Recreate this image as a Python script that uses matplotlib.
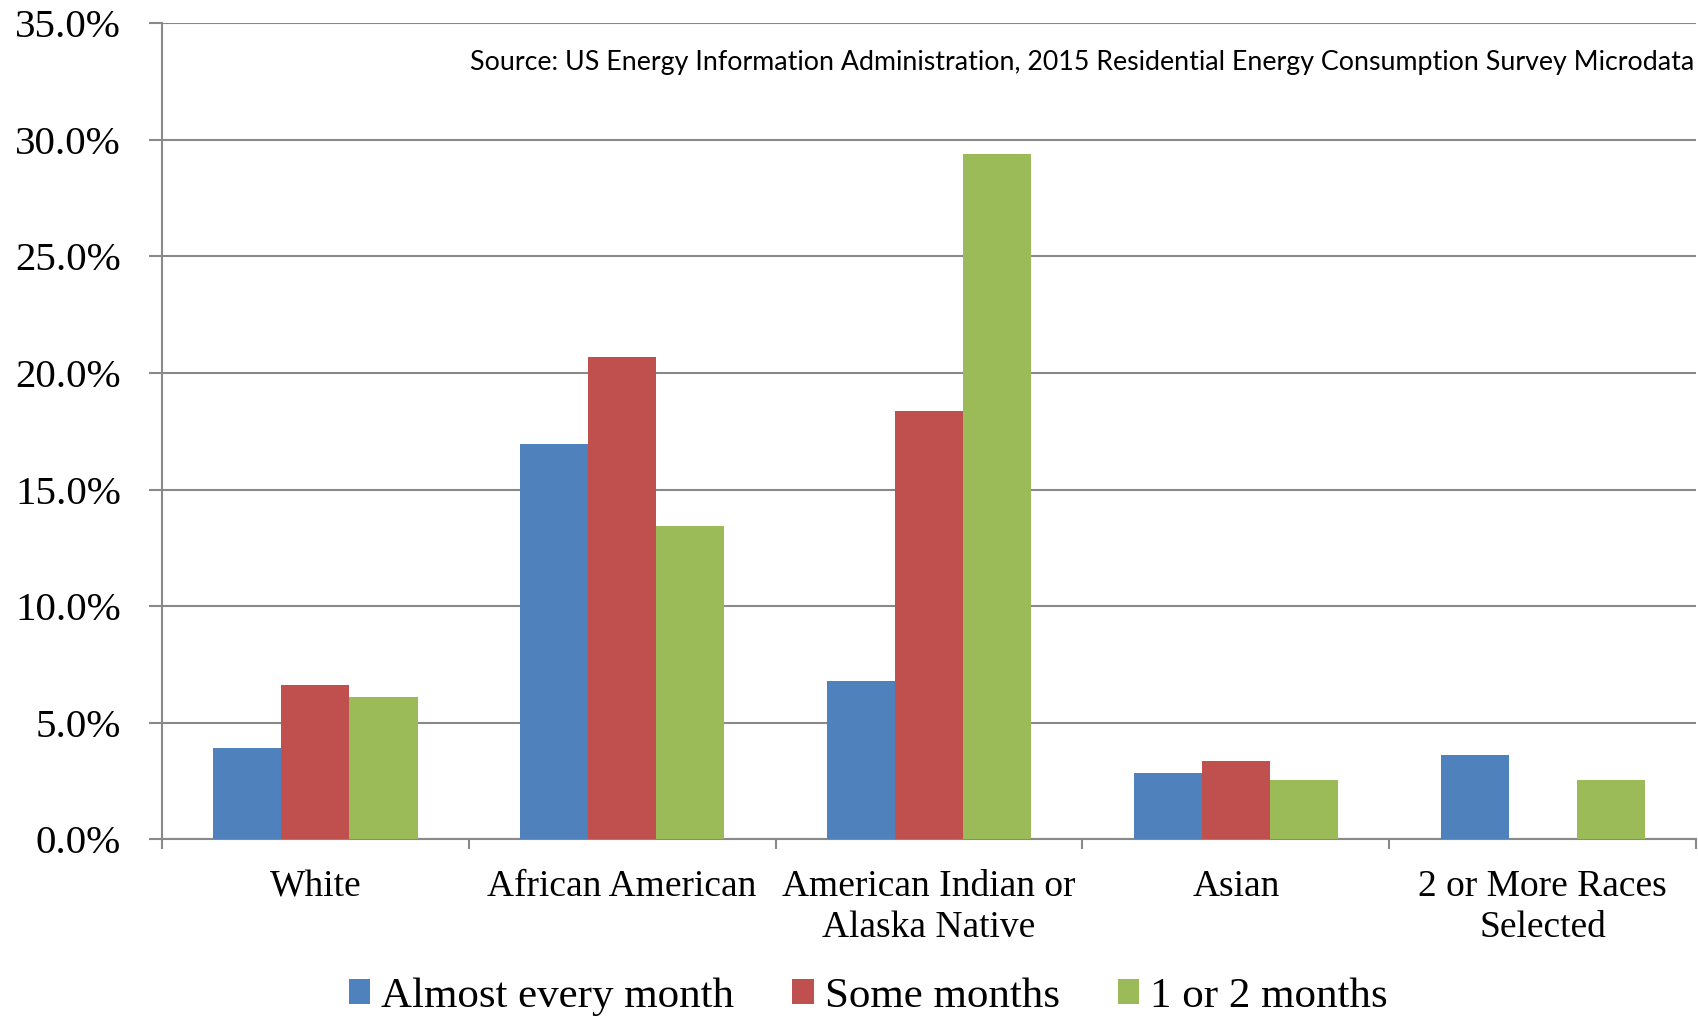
import numpy as np
import matplotlib.pyplot as plt
from matplotlib.ticker import FuncFormatter, FixedLocator

# Данные
categories = ['White', 'African American', 'American Indian or\nAlaska Native',
              'Asian', '2 or More Races\nSelected']
almost_every = [3.92, 16.95, 6.78, 2.82, 3.62]
some_months = [6.62, 20.7, 18.38, 3.36, 0.0]
one_two = [6.1, 13.45, 29.38, 2.54, 2.52]

series = [('Almost every month', almost_every, '#4F81BD'),
          ('Some months', some_months, '#C0504D'),
          ('1 or 2 months', one_two, '#9BBB59')]

grey = '#898989'
plt.rcParams['font.family'] = ['Liberation Serif', 'DejaVu Serif']

fig = plt.figure(figsize=(16.99, 10.16), dpi=100)
ax = fig.add_axes([0.0953, 0.174, 0.903, 0.803])

x = np.arange(len(categories))
w = 0.222
for i, (name, vals, col) in enumerate(series):
    ax.bar(x + (i - 1) * w, vals, w, color=col, label=name, zorder=3)

ax.set_xlim(-0.5, len(categories) - 0.5)
ax.set_ylim(0, 35)
ax.set_yticks(np.arange(0, 35.1, 5))
ax.yaxis.set_major_formatter(FuncFormatter(lambda v, p: f'{v:.1f}%'))
ax.grid(axis='y', color=grey, linewidth=1.5, zorder=0)

ax.set_xticks(x)
ax.set_xticklabels(categories, fontsize=27, linespacing=1.25)
ax.tick_params(axis='x', which='major', length=0, pad=22)
ax.xaxis.set_minor_locator(FixedLocator(np.arange(-0.5, len(categories), 1)))
ax.tick_params(axis='x', which='minor', length=7.5, width=1.5, color=grey)
ax.tick_params(axis='y', length=9.5, width=1.5, color=grey, labelsize=29.5, pad=20)

for s in ['top', 'right']:
    ax.spines[s].set_visible(False)
for s in ['left', 'bottom']:
    ax.spines[s].set_color(grey)
    ax.spines[s].set_linewidth(1.5)

fig.text(0.997, 0.938, 'Source: US Energy Information Administration, 2015 Residential Energy Consumption Survey Microdata',
         ha='right', va='center', fontsize=19.3, family=['Lato', 'DejaVu Sans'])

fig.legend(loc='center', bbox_to_anchor=(0.511, 0.019), ncol=3, frameon=False,
           fontsize=31, handlelength=0.5, handleheight=0.5, handletextpad=0.25,
           columnspacing=1.35)

fig.savefig('out.png', dpi=100)
